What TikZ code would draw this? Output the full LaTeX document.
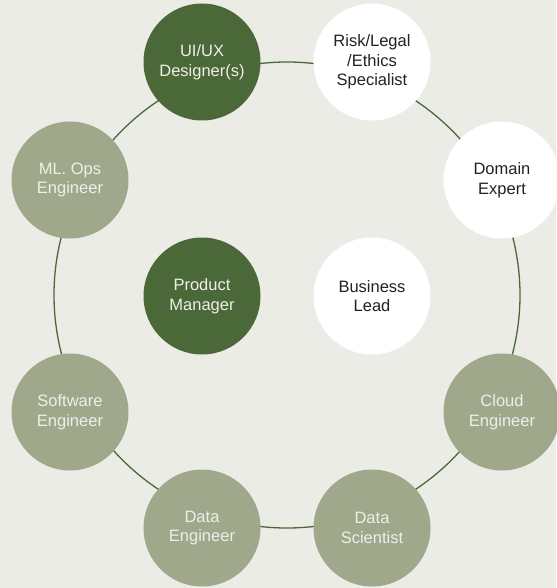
\documentclass[tikz,border=0pt]{standalone}
\usepackage{fontspec}
\setmainfont{Liberation Sans}

\definecolor{bgcol}{HTML}{ECECE7}
\definecolor{darkgreen}{HTML}{4B6838}
\definecolor{sage}{HTML}{A0A88C}
\definecolor{lighttext}{HTML}{EEEFE8}
\definecolor{darktext}{HTML}{222222}

\begin{document}
\begin{tikzpicture}[x=1pt,y=-1pt,
  role/.style={circle,minimum size=117pt,inner sep=0pt,align=center,font=\fontsize{16.5}{19.5}\selectfont},
  lead/.style={role,fill=darkgreen,text=lighttext},
  tech/.style={role,fill=sage,text=lighttext},
  advisor/.style={role,fill=white,text=darktext}]
\fill[bgcol] (0,0) rectangle (556,588); % --- background
\useasboundingbox (0,0) rectangle (556,588);

\coordinate (hub) at (287,295);
\draw[darkgreen,line width=1.3pt] (hub) circle (233pt); % --- the ring behind the team

% --- top row
\node[lead] (uiux) at (202,62) {UI/UX\\Designer(s)};
\node[advisor] (risk) at (372,62) {Risk/Legal\\/Ethics\\Specialist};
% --- sides
\node[tech] (mlops) at (70,180) {ML. Ops\\Engineer};
\node[advisor] (domain) at (502,180) {Domain\\Expert};
% --- centre pair
\node[lead] (pm) at (202,296) {Product\\Manager};
\node[advisor] (business) at (372,296) {Business\\Lead};
% --- lower ring
\node[tech] (software) at (70,412) {Software\\Engineer};
\node[tech] (cloud) at (502,412) {Cloud\\Engineer};
\node[tech] (dataeng) at (202,528) {Data\\Engineer};
\node[tech] (datasci) at (372,528) {Data\\Scientist};
\end{tikzpicture}
\end{document}
